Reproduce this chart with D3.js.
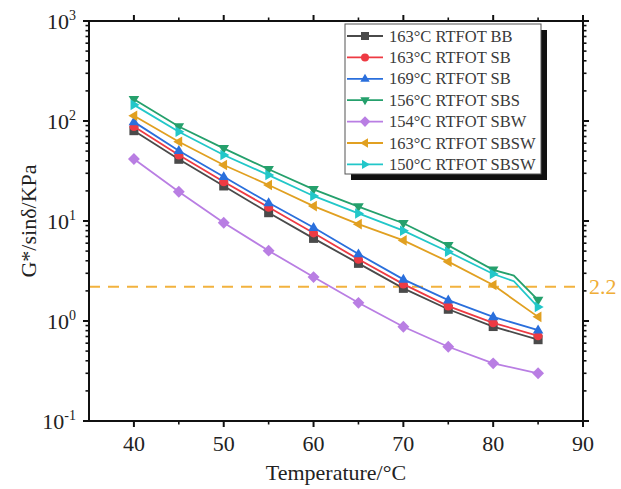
<!DOCTYPE html>
<html>
<head>
<meta charset="utf-8">
<script src="https://cdn.jsdelivr.net/npm/d3@7/dist/d3.min.js"></script>
<style>
  html, body { margin: 0; padding: 0; background: #fff; }
  svg { display: block; font-family: "Liberation Serif", "Times New Roman", serif; }
</style>
</head>
<body>
<svg id="chart" width="621" height="489"></svg>
<script>
// Temperatures (°C) of the sweep
const temperatures = [40, 45, 50, 55, 60, 65, 70, 75, 80, 85];

// G*/sinδ (kPa) for each binder
const bb163     = [80, 41.4, 22.4, 12.1, 6.7, 3.77, 2.12, 1.31, 0.88, 0.65];
const sb163     = [88, 45.7, 24.7, 13.7, 7.6, 4.14, 2.34, 1.41, 0.96, 0.71];
const sb169     = [98, 50.5, 27.7, 15.2, 8.6, 4.68, 2.61, 1.62, 1.10, 0.81];
const sbs156    = [165, 88, 53.3, 32.9, 20.7, 13.9, 9.5, 5.7, 3.25, 1.62];
const sbw154    = [41.7, 19.6, 9.6, 5.05, 2.75, 1.52, 0.877, 0.553, 0.377, 0.30];
const sbsw163   = [113, 62, 36.3, 22.9, 14.1, 9.3, 6.4, 3.92, 2.29, 1.10];
const sbsw150   = [145, 78, 45.7, 28.8, 17.8, 11.9, 8.0, 4.93, 2.95, 1.38];

// Intermediate measured points (temperature, value) between 80 and 85 °C
const sbs156Bend  = [82.3, 2.85];
const sbsw150Bend = [82.3, 2.5];

const seriesNames = [
  "163°C RTFOT BB", "163°C RTFOT SB", "169°C RTFOT SB", "156°C RTFOT SBS",
  "154°C RTFOT SBW", "163°C RTFOT SBSW", "150°C RTFOT SBSW"
];
const seriesValues = [bb163, sb163, sb169, sbs156, sbw154, sbsw163, sbsw150];
const seriesBends = [null, null, null, sbs156Bend, null, null, sbsw150Bend];
const seriesColors = ["#4a4a4a", "#ee3a43", "#2a6fdc", "#25a06c", "#b97ee3", "#e1a021", "#22c7c9"];
const seriesMarkers = ["square", "circle", "up", "down", "diamond", "left", "right"];

const xTicks = [40, 50, 60, 70, 80, 90];
const yTickExponents = [-1, 0, 1, 2, 3];
const thresholdValue = 2.2;
const thresholdLabel = "2.2";

const svg = d3.select("#chart");
const plot = { left: 89, right: 583, top: 21, bottom: 421 };

const x = d3.scaleLinear().domain([35, 90]).range([plot.left, plot.right]);
const y = d3.scaleLog().domain([0.1, 1000]).range([plot.bottom, plot.top]);

// Marker shapes
function markerPath(type, s) {
  const h = s / 2;
  switch (type) {
    case "square": return `M${-h},${-h}H${h}V${h}H${-h}Z`;
    case "circle": return d3.symbol(d3.symbolCircle, Math.PI * h * h)();
    case "up": { const r = s * 0.62; return `M0,${-r}L${r * 0.95},${r * 0.6}L${-r * 0.95},${r * 0.6}Z`; }
    case "down": { const r = s * 0.62; return `M0,${r}L${r * 0.95},${-r * 0.6}L${-r * 0.95},${-r * 0.6}Z`; }
    case "left": { const r = s * 0.62; return `M${-r},0L${r * 0.6},${-r * 0.95}L${r * 0.6},${r * 0.95}Z`; }
    case "right": { const r = s * 0.62; return `M${r},0L${-r * 0.6},${-r * 0.95}L${-r * 0.6},${r * 0.95}Z`; }
    case "diamond": { const r = s * 0.66; return `M0,${-r}L${r},0L0,${r}L${-r},0Z`; }
  }
}

// Threshold line
svg.append("line")
  .attr("x1", plot.left).attr("x2", plot.right)
  .attr("y1", y(thresholdValue)).attr("y2", y(thresholdValue))
  .attr("stroke", "#f2b23e").attr("stroke-width", 2)
  .attr("stroke-dasharray", "11,8");
svg.append("text")
  .attr("x", plot.right + 6).attr("y", y(thresholdValue) + 7)
  .attr("fill", "#efad36").attr("font-size", 22)
  .text(thresholdLabel);

// Series lines and markers
const line = d3.line().x(d => x(d[0])).y(d => y(d[1]));
seriesValues.forEach((vals, i) => {
  const pts = temperatures.map((t, j) => [t, vals[j]]);
  const linePts = pts.slice();
  if (seriesBends[i]) linePts.splice(9, 0, seriesBends[i]);
  const g = svg.append("g");
  g.append("path")
    .attr("d", line(linePts))
    .attr("fill", "none")
    .attr("stroke", seriesColors[i])
    .attr("stroke-width", 1.8);
  g.selectAll("path.m").data(pts).enter().append("path")
    .attr("class", "m")
    .attr("transform", d => `translate(${x(d[0])},${y(d[1])})`)
    .attr("d", markerPath(seriesMarkers[i], 9))
    .attr("fill", seriesColors[i]);
});

// Axes frame
const axisG = svg.append("g");
axisG.append("rect")
  .attr("x", plot.left).attr("y", plot.top)
  .attr("width", plot.right - plot.left).attr("height", plot.bottom - plot.top)
  .attr("fill", "none").attr("stroke", "#111").attr("stroke-width", 2);

// X ticks (bottom and top, outward)
const xMinor = [45, 55, 65, 75, 85];
xTicks.forEach(t => {
  axisG.append("line").attr("x1", x(t)).attr("x2", x(t)).attr("y1", plot.bottom).attr("y2", plot.bottom + 6).attr("stroke", "#111").attr("stroke-width", 2);
  axisG.append("line").attr("x1", x(t)).attr("x2", x(t)).attr("y1", plot.top).attr("y2", plot.top - 6).attr("stroke", "#111").attr("stroke-width", 2);
  svg.append("text").attr("x", x(t)).attr("y", plot.bottom + 30)
    .attr("text-anchor", "middle").attr("font-size", 22).attr("fill", "#222").text(t);
});
xMinor.forEach(t => {
  axisG.append("line").attr("x1", x(t)).attr("x2", x(t)).attr("y1", plot.bottom).attr("y2", plot.bottom + 3.5).attr("stroke", "#111").attr("stroke-width", 1.6);
  axisG.append("line").attr("x1", x(t)).attr("x2", x(t)).attr("y1", plot.top).attr("y2", plot.top - 3.5).attr("stroke", "#111").attr("stroke-width", 1.6);
});

// Y ticks (left and right, outward)
yTickExponents.forEach(e => {
  const v = Math.pow(10, e);
  const yy = y(v);
  axisG.append("line").attr("x1", plot.left - 6).attr("x2", plot.left).attr("y1", yy).attr("y2", yy).attr("stroke", "#111").attr("stroke-width", 2);
  axisG.append("line").attr("x1", plot.right).attr("x2", plot.right + 6).attr("y1", yy).attr("y2", yy).attr("stroke", "#111").attr("stroke-width", 2);
  const txt = svg.append("text").attr("x", plot.left - 13).attr("y", yy + 8)
    .attr("text-anchor", "end").attr("font-size", 22).attr("fill", "#222");
  txt.append("tspan").text("10");
  txt.append("tspan").attr("dy", -9).attr("font-size", 14).text(e);
  if (e < 3) {
    for (let k = 2; k <= 9; k++) {
      const ym = y(k * v);
      axisG.append("line").attr("x1", plot.left - 3.5).attr("x2", plot.left).attr("y1", ym).attr("y2", ym).attr("stroke", "#111").attr("stroke-width", 1.6);
      axisG.append("line").attr("x1", plot.right).attr("x2", plot.right + 3.5).attr("y1", ym).attr("y2", ym).attr("stroke", "#111").attr("stroke-width", 1.6);
    }
  }
});

// Axis titles
svg.append("text")
  .attr("x", (plot.left + plot.right) / 2).attr("y", 480)
  .attr("text-anchor", "middle").attr("font-size", 22).attr("fill", "#222")
  .text("Temperature/°C");
svg.append("text")
  .attr("transform", `translate(36,${(plot.top + plot.bottom) / 2}) rotate(-90)`)
  .attr("text-anchor", "middle").attr("font-size", 22).attr("fill", "#222")
  .text("G*/sinδ/KPa");

// Legend
const lg = { x: 345, y: 24, w: 196, h: 150 };
svg.append("rect")
  .attr("x", lg.x + 6).attr("y", lg.y + 6).attr("width", lg.w).attr("height", lg.h)
  .attr("fill", "#111");
svg.append("rect")
  .attr("x", lg.x).attr("y", lg.y).attr("width", lg.w).attr("height", lg.h)
  .attr("fill", "#fff").attr("stroke", "#555").attr("stroke-width", 1);
seriesNames.forEach((name, i) => {
  const yy = lg.y + 12 + i * 21.4;
  svg.append("line").attr("x1", lg.x + 2).attr("x2", lg.x + 38).attr("y1", yy).attr("y2", yy)
    .attr("stroke", seriesColors[i]).attr("stroke-width", 1.8);
  svg.append("path").attr("transform", `translate(${lg.x + 20},${yy})`)
    .attr("d", markerPath(seriesMarkers[i], 8)).attr("fill", seriesColors[i]);
  svg.append("text").attr("x", lg.x + 44).attr("y", yy + 5.5)
    .attr("font-size", 16.5).attr("fill", "#3a3a3a").text(name);
});
</script>
</body>
</html>
